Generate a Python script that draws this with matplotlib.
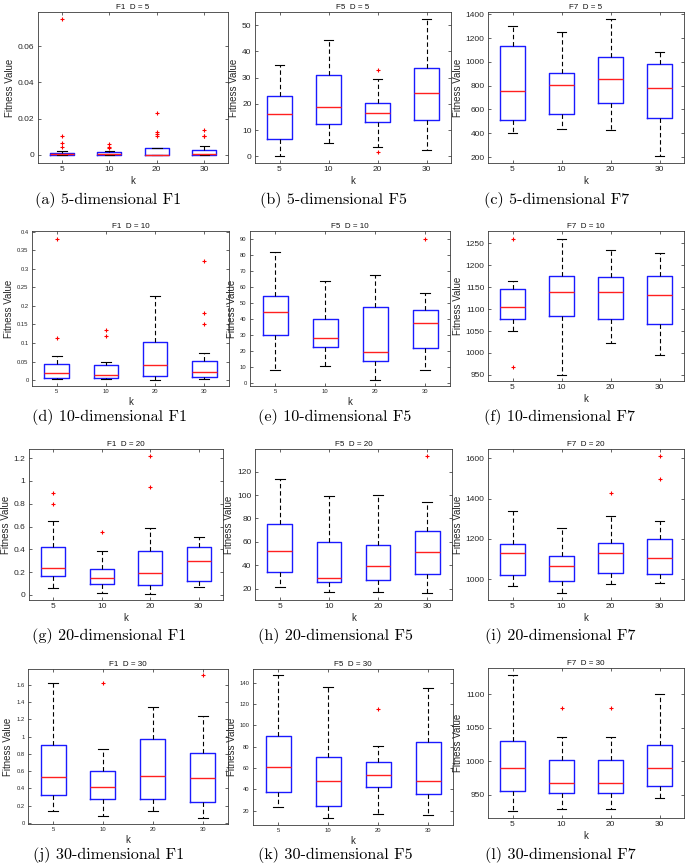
import matplotlib
matplotlib.use('Agg')
import matplotlib.pyplot as plt
from matplotlib.ticker import MultipleLocator, FuncFormatter

# ---------------- data: [whislo, q1, median, q3, whishi] per k ----------------
k_labels = ['5', '10', '20', '30']

F1_D5_stats = [[0.0, 0.0, 0.0002, 0.0011, 0.0018],
               [0.0, 0.0, 0.0003, 0.0015, 0.0022],
               [0.0, 0.0, 0.0001, 0.0035, 0.0037],
               [0.0, 0.0001, 0.0003, 0.0028, 0.0046]]
F1_D5_out = [[0.0752, 0.0102, 0.0065, 0.0043],
             [0.0061, 0.0043, 0.0035],
             [0.0233, 0.0124, 0.0117, 0.0104],
             [0.0135, 0.0106, 0.0102]]

F5_D5_stats = [[0.0, 6.5, 16.0, 23.0, 35.0],
               [5.0, 12.5, 18.7, 31.0, 44.3],
               [3.5, 13.2, 16.6, 20.2, 29.4],
               [2.5, 14.0, 24.0, 33.5, 52.5]]
F5_D5_out = [[], [], [33.1, 1.8], []]

F7_D5_stats = [[400, 515, 755, 1135, 1305],
               [435, 565, 805, 905, 1255],
               [425, 655, 860, 1040, 1360],
               [205, 530, 780, 985, 1080]]
F7_D5_out = [[], [], [], []]

F1_D10_stats = [[0.002, 0.006, 0.019, 0.043, 0.066],
                [0.003, 0.005, 0.013, 0.040, 0.050],
                [0.001, 0.011, 0.041, 0.102, 0.227],
                [0.003, 0.008, 0.021, 0.051, 0.072]]
F1_D10_out = [[0.38, 0.113], [0.135, 0.118], [], [0.32, 0.18, 0.151]]

F5_D10_stats = [[8, 30, 44.5, 54.5, 82],
                [11, 22.5, 28, 40, 64],
                [2, 14, 19.5, 48, 68],
                [8, 22, 37.5, 46, 56.5]]
F5_D10_out = [[], [], [], [90.5]]

F7_D10_stats = [[1051, 1078, 1104, 1146, 1165],
                [950, 1085, 1140, 1175, 1260],
                [1023, 1078, 1139, 1173, 1235],
                [996, 1066, 1132, 1176, 1227]]
F7_D10_out = [[1259, 967], [], [], []]

F1_D20_stats = [[0.06, 0.17, 0.235, 0.42, 0.65],
                [0.02, 0.10, 0.145, 0.225, 0.39],
                [0.01, 0.09, 0.195, 0.39, 0.585],
                [0.07, 0.125, 0.30, 0.42, 0.51]]
F1_D20_out = [[0.89, 0.80], [0.55], [1.22, 0.95], []]

F5_D20_stats = [[21, 34, 52, 75, 114],
                [17, 26, 29.5, 60, 99],
                [17, 27, 39, 57, 100],
                [16, 32.5, 51, 69.5, 94]]
F5_D20_out = [[], [], [], [133]]

F7_D20_stats = [[965, 1022, 1128, 1176, 1337],
                [932, 993, 1064, 1115, 1255],
                [977, 1030, 1130, 1182, 1312],
                [979, 1025, 1105, 1200, 1289]]
F7_D20_out = [[], [], [1427], [1610, 1497]]

F1_D30_stats = [[0.14, 0.33, 0.53, 0.90, 1.62],
                [0.08, 0.28, 0.415, 0.60, 0.855],
                [0.14, 0.28, 0.54, 0.975, 1.34],
                [0.065, 0.245, 0.52, 0.815, 1.24]]
F1_D30_out = [[], [1.62], [], [1.71]]

F5_D30_stats = [[23, 37.5, 61, 90, 147],
                [13, 24, 47.5, 70, 136],
                [17, 42, 53, 65.5, 81],
                [15.5, 36, 47.5, 84.5, 135.5]]
F5_D30_out = [[], [], [115.5], []]

F7_D30_stats = [[925, 955, 990, 1030, 1128],
                [928, 953, 967, 1002, 1036],
                [928, 953, 967, 1002, 1036],
                [945, 963, 990, 1024, 1100]]
F7_D30_out = [[], [1080], [1080], []]

titles = ['F1  D = 5', 'F5  D = 5', 'F7  D = 5',
          'F1  D = 10', 'F5  D = 10', 'F7  D = 10',
          'F1  D = 20', 'F5  D = 20', 'F7  D = 20',
          'F1  D = 30', 'F5  D = 30', 'F7  D = 30']
captions = ['(a) 5-dimensional F1', '(b) 5-dimensional F5', '(c) 5-dimensional F7',
            '(d) 10-dimensional F1', '(e) 10-dimensional F5', '(f) 10-dimensional F7',
            '(g) 20-dimensional F1', '(h) 20-dimensional F5', '(i) 20-dimensional F7',
            '(j) 30-dimensional F1', '(k) 30-dimensional F5', '(l) 30-dimensional F7']

all_stats = [F1_D5_stats, F5_D5_stats, F7_D5_stats,
             F1_D10_stats, F5_D10_stats, F7_D10_stats,
             F1_D20_stats, F5_D20_stats, F7_D20_stats,
             F1_D30_stats, F5_D30_stats, F7_D30_stats]
all_out = [F1_D5_out, F5_D5_out, F7_D5_out,
           F1_D10_out, F5_D10_out, F7_D10_out,
           F1_D20_out, F5_D20_out, F7_D20_out,
           F1_D30_out, F5_D30_out, F7_D30_out]

# ---------------- layout (pixels) ----------------
W, H = 685, 864
boxes = [(38, 12, 228, 163), (255, 12, 451, 163), (488, 12, 684, 163),
         (32, 231, 229, 386), (250, 231, 450, 386), (488, 231, 684, 381),
         (29, 449, 223, 600), (255, 449, 452, 600), (488, 449, 684, 600),
         (28, 669, 228, 824), (253, 669, 453, 825), (488, 668, 684, 818)]
ylims = [(-0.0046, 0.079), (-2.5, 55), (150, 1420),
         (-0.016, 0.402), (-1.7, 95.2), (936, 1278),
         (-0.044, 1.28), (10.3, 139.4), (897, 1646),
         (-0.01, 1.78), (6.5, 153), (915, 1139)]
steps = [0.02, 10, 200, 0.05, 10, 50, 0.2, 20, 200, 0.2, 20, 50]
tick_fs = [6, 6, 6, 4.2, 4.2, 6, 6, 6, 6, 4.2, 4.2, 6]
cap_x = [108, 333, 557, 109, 335, 560, 109, 335, 560, 109, 335, 560]
cap_y = [200, 200, 200, 417, 417, 417, 636, 636, 636, 855, 855, 855]

fig = plt.figure(figsize=(W / 100, H / 100), dpi=100)
plt.rcParams['font.family'] = ['Liberation Sans', 'DejaVu Sans']
gray = '#262626'

fmt = FuncFormatter(lambda v, p: ('%g' % round(v, 6)))

for i in range(12):
    l, t, r, b = boxes[i]
    ax = fig.add_axes([l / W, 1 - b / H, (r - l) / W, (b - t) / H])
    bstats = []
    for j, s in enumerate(all_stats[i]):
        bstats.append(dict(whislo=s[0], q1=s[1], med=s[2], q3=s[3], whishi=s[4],
                           fliers=all_out[i][j], label=k_labels[j]))
    ax.bxp(bstats, positions=[1, 2, 3, 4], widths=0.5, capwidths=0.2,
           boxprops=dict(color='#1a1aff', lw=1.0),
           medianprops=dict(color='#ff2020', lw=1.0),
           whiskerprops=dict(color='black', ls=(0, (4, 2.5)), lw=0.8),
           capprops=dict(color='black', lw=0.8),
           flierprops=dict(marker='+', markeredgecolor='red', markersize=3.5,
                           markeredgewidth=0.8, linestyle='none'))
    ax.set_xlim(0.5, 4.5)
    ax.set_ylim(*ylims[i])
    ax.yaxis.set_major_locator(MultipleLocator(steps[i]))
    ax.yaxis.set_major_formatter(fmt)
    ax.tick_params(direction='in', length=2.5, width=0.5, top=True, right=True,
                   labelsize=tick_fs[i], colors=gray, pad=2.5)
    for sp in ax.spines.values():
        sp.set_color('#3a3a3a')
        sp.set_linewidth(0.6)
    ax.set_title(titles[i], fontsize=5.8, pad=2.5, color='#111111')
    ax.set_ylabel('Fitness Value', fontsize=7, color=gray, labelpad=2)
    ax.set_xlabel('k', fontsize=7, color=gray, labelpad=1.5)
    fig.text(cap_x[i] / W, 1 - cap_y[i] / H, captions[i], fontsize=11.6,
             family='cmr10', ha='center', va='center', color='black')

fig.savefig('out.png', dpi=100)
